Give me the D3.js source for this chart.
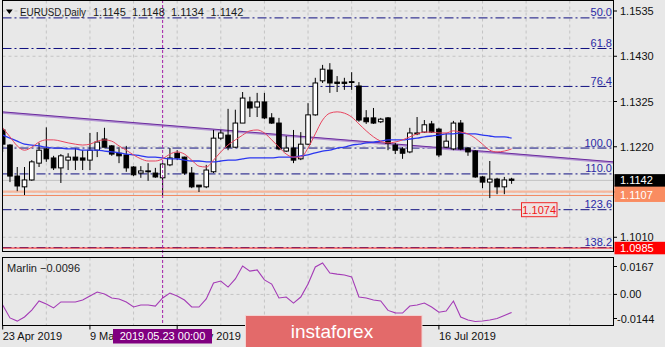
<!DOCTYPE html>
<html>
<head>
<meta charset="utf-8">
<script src="https://cdn.jsdelivr.net/npm/d3@7"></script>
<style>
  html, body { margin: 0; padding: 0; background: #e8e8e8; }
  svg { display: block; }
  text { font-family: "Liberation Sans", Arial, sans-serif; }
</style>
</head>
<body>
<svg id="chart" width="665" height="347"></svg>
<script>
// ---- EURUSD daily bars ----
const dates = [
  "2019-04-23","2019-04-24","2019-04-25","2019-04-26","2019-04-29","2019-04-30",
  "2019-05-01","2019-05-02","2019-05-03","2019-05-06","2019-05-07","2019-05-08","2019-05-09","2019-05-10",
  "2019-05-13","2019-05-14","2019-05-15","2019-05-16","2019-05-17","2019-05-20","2019-05-21","2019-05-22",
  "2019-05-23","2019-05-24","2019-05-27","2019-05-28","2019-05-29","2019-05-30","2019-05-31",
  "2019-06-03","2019-06-04","2019-06-05","2019-06-06","2019-06-07","2019-06-10","2019-06-11","2019-06-12",
  "2019-06-13","2019-06-14","2019-06-17","2019-06-18","2019-06-19","2019-06-20","2019-06-21","2019-06-24",
  "2019-06-25","2019-06-26","2019-06-27","2019-06-28",
  "2019-07-01","2019-07-02","2019-07-03","2019-07-04","2019-07-05","2019-07-08","2019-07-09","2019-07-10",
  "2019-07-11","2019-07-12","2019-07-15","2019-07-16","2019-07-17","2019-07-18","2019-07-19","2019-07-22",
  "2019-07-23","2019-07-24","2019-07-25","2019-07-26","2019-07-29","2019-07-30"
];
const open = [
  1.1259,1.1224,1.1152,1.1127,1.1143,1.1182,1.1215,1.1194,1.1171,1.1189,1.1196,1.1194,1.1189,1.1212,
  1.1238,1.1222,1.1205,1.1201,1.1173,1.1159,1.1164,1.1159,1.1148,1.1178,1.1205,1.1196,1.1159,1.1131,1.1127,
  1.1162,1.1240,1.1247,1.1219,1.1275,1.1324,1.1312,1.1324,1.1287,1.1275,1.1210,1.1217,1.1192,1.1226,1.1294,
  1.1373,1.1398,1.1370,1.1370,1.1371,1.1361,1.1287,1.1287,1.1278,1.1287,1.1224,1.1215,1.1208,1.1250,1.1254,
  1.1273,1.1261,1.1219,1.1215,1.1275,1.1217,1.1210,1.1150,1.1138,1.1145,1.1127,1.1145
];
const high = [
  1.1264,1.1226,1.1173,1.1173,1.1189,1.1229,1.1265,1.1199,1.1203,1.1205,1.1217,1.1212,1.1252,1.1254,
  1.1264,1.1224,1.1219,1.1222,1.1175,1.1175,1.1182,1.1171,1.1182,1.1217,1.1212,1.1197,1.1173,1.1131,1.1178,
  1.1259,1.1259,1.1308,1.1306,1.1347,1.1336,1.1345,1.1345,1.1298,1.1287,1.1245,1.1259,1.1254,1.1321,1.1380,
  1.1410,1.1414,1.1384,1.1380,1.1393,1.1370,1.1305,1.1310,1.1287,1.1289,1.1229,1.1219,1.1264,1.1289,1.1282,
  1.1280,1.1264,1.1252,1.1280,1.1282,1.1219,1.1212,1.1152,1.1187,1.1148,1.1150,1.1148
];
const low = [
  1.1208,1.1138,1.1117,1.1108,1.1141,1.1173,1.1185,1.1166,1.1136,1.1166,1.1166,1.1166,1.1166,1.1196,
  1.1219,1.1199,1.1182,1.1162,1.1152,1.1148,1.1141,1.1148,1.1108,1.1175,1.1189,1.1155,1.1124,1.1115,1.1124,
  1.1159,1.1236,1.1212,1.1217,1.1275,1.1289,1.1289,1.1284,1.1273,1.1212,1.1208,1.1182,1.1189,1.1224,1.1292,
  1.1368,1.1345,1.1347,1.1352,1.1352,1.1278,1.1273,1.1273,1.1275,1.1212,1.1203,1.1192,1.1205,1.1247,1.1252,
  1.1252,1.1196,1.1217,1.1212,1.1212,1.1199,1.1148,1.1124,1.1101,1.1110,1.1110,1.1134
];
const close = [
  1.1226,1.1152,1.1129,1.1143,1.1185,1.1212,1.1192,1.1171,1.1199,1.1196,1.1189,1.1189,1.1212,1.1231,
  1.1219,1.1203,1.1199,1.1171,1.1155,1.1164,1.1162,1.1150,1.1180,1.1194,1.1194,1.1159,1.1127,1.1127,1.1166,
  1.1240,1.1252,1.1219,1.1275,1.1333,1.1310,1.1324,1.1287,1.1275,1.1215,1.1217,1.1189,1.1226,1.1294,1.1368,
  1.1400,1.1368,1.1367,1.1367,1.1370,1.1282,1.1278,1.1275,1.1284,1.1228,1.1212,1.1205,1.1252,1.1252,1.1271,
  1.1254,1.1201,1.1233,1.1275,1.1215,1.1208,1.1150,1.1138,1.1145,1.1127,1.1143,1.1142
];

// ---- moving averages on the price window ----
const maFast = [
  1.1264,1.1243,1.1222,1.1212,1.1219,1.1231,1.1236,1.1236,1.1233,1.1229,1.1226,1.1224,1.1226,1.1233,
  1.1236,1.1233,1.1222,1.1212,1.1201,1.1192,1.1187,1.1187,1.1192,1.1203,1.1208,1.1203,1.1189,1.1175,1.1173,
  1.1189,1.1208,1.1224,1.1236,1.1247,1.1257,1.1259,1.1252,1.1236,1.1219,1.1203,1.1196,1.1196,1.1217,1.1250,
  1.1282,1.1298,1.1301,1.1298,1.1289,1.1273,1.1257,1.1243,1.1233,1.1229,1.1231,1.1236,1.1243,1.1250,1.1254,
  1.1254,1.1252,1.1252,1.1257,1.1254,1.1250,1.1240,1.1226,1.1212,1.1208,1.1210,1.1215
];
const maSlow = [
  1.1247,1.1240,1.1233,1.1226,1.1224,1.1222,1.1219,1.1217,1.1217,1.1215,1.1215,1.1212,1.1212,1.1212,
  1.1210,1.1208,1.1206,1.1203,1.1201,1.1199,1.1196,1.1196,1.1194,1.1192,1.1192,1.1189,1.1187,1.1187,1.1185,
  1.1185,1.1187,1.1189,1.1189,1.1192,1.1194,1.1194,1.1194,1.1194,1.1196,1.1196,1.1196,1.1199,1.1201,1.1206,
  1.1210,1.1212,1.1217,1.1219,1.1224,1.1226,1.1229,1.1231,1.1233,1.1236,1.1236,1.1236,1.1238,1.1240,1.1243,
  1.1245,1.1247,1.1250,1.1250,1.1252,1.1250,1.1250,1.1247,1.1245,1.1243,1.1243,1.1240
];

// ---- Marlin oscillator ----
const marlin = [
  -0.0056,-0.0125,-0.0142,-0.0120,-0.0083,-0.0035,-0.0051,-0.0072,-0.0040,-0.0040,-0.0040,-0.0030,-0.0009,0.0013,
  0.0002,-0.0019,-0.0024,-0.0040,-0.0067,-0.0056,-0.0056,-0.0062,-0.0019,0.0007,-0.0009,-0.0030,-0.0067,-0.0067,-0.0024,
  0.0061,0.0071,0.0039,0.0082,0.0151,0.0124,0.0130,0.0077,0.0055,-0.0019,-0.0014,-0.0046,-0.0014,0.0055,0.0146,
  0.0167,0.0114,0.0108,0.0103,0.0093,-0.0014,-0.0019,-0.0030,-0.0035,-0.0085,-0.0098,-0.0099,-0.0062,-0.0056,-0.0046,
  -0.0067,-0.0095,-0.0088,-0.0035,-0.0120,-0.0136,-0.0144,-0.0141,-0.0136,-0.0128,-0.0112,-0.0096
];
const marlinTicks = [0.0167, 0.00, -0.0144];
const marlinTickText = ["0.0167", "0.00", "-0.0144"];

// ---- axis ticks ----
const priceTicks = [1.1535, 1.1430, 1.1325, 1.1220, 1.1115, 1.1010];
const dateTickBars = [0, 12, 24, 36, 48, 60];

// ---- chart objects ----
const fibLevels = ["50.0", "61.8", "76.4", "100.0", "110.0", "123.6", "138.2"];
const fibPrices = [1.1519, 1.1448, 1.1360, 1.1217, 1.1157, 1.1074, 1.0986];
const trendBars = [0, 84];
const trendPrices = [1.1301, 1.1185];
const zoneUpper = 1.1116;
const zoneLower = 1.1107;
const redLevel = 1.0985;
const targetLabel = 1.1074;
const bidPrice = 1.1142;
const markerBar = 22;
const headerValues = ["1.1145", "1.1148", "1.1134", "1.1142"];
const marlinLast = marlin[marlin.length - 1];

// ---- layout ----
const W = 665, H = 347;
const L = 2.5, R = 613.5;
const mainTop = 0.5, mainBottom = 251.5;
const subTop = 257.5, subBottom = 325.5;
const step = 7.27, firstX = 2.7;
const badge = { x: 245.5, y: 315.5, w: 176.5, h: 34 };
const markerTag = { x: 113, y: 329, w: 99, h: 14.5 };

const svg = d3.select("#chart");
svg.append("rect").attr("width", W).attr("height", H).attr("fill", "#e8e8e8");

const x = d3.scaleLinear().domain([0, 84]).range([firstX, firstX + 84 * step]);
const y = d3.scaleLinear().domain([1.0985, 1.1535]).range([248.05, 11]);
const ym = d3.scaleLinear().domain([-0.0144, 0.0167]).range([321.5, 263]);
const parseDate = d3.timeParse("%Y-%m-%d");
const fmtDate = d3.timeFormat("%-d %b %Y");

const defs = svg.append("defs");
defs.append("clipPath").attr("id", "clipMain").append("rect")
  .attr("x", L).attr("y", mainTop).attr("width", R - L).attr("height", mainBottom - mainTop);
defs.append("clipPath").attr("id", "clipSub").append("rect")
  .attr("x", L).attr("y", subTop).attr("width", R - L).attr("height", subBottom - subTop);
// date labels are cut where the marker tag sits
const clipDates = defs.append("clipPath").attr("id", "clipDates");
clipDates.append("rect").attr("x", 0).attr("y", subBottom).attr("width", markerTag.x).attr("height", H - subBottom);
clipDates.append("rect").attr("x", markerTag.x + markerTag.w).attr("y", subBottom)
  .attr("width", W - markerTag.x - markerTag.w).attr("height", H - subBottom);

const gridColor = "#c4c4c4";
const gridBars = d3.range(6, 84, 6);

// ===== price window =====
const main = svg.append("g").attr("clip-path", "url(#clipMain)");

main.selectAll(".vgrid").data(gridBars).join("line")
  .attr("x1", d => x(d)).attr("x2", d => x(d))
  .attr("y1", mainTop).attr("y2", mainBottom)
  .attr("stroke", gridColor).attr("stroke-dasharray", "3,3");
main.selectAll(".hgrid").data(priceTicks).join("line")
  .attr("x1", L).attr("x2", R)
  .attr("y1", d => y(d)).attr("y2", d => y(d))
  .attr("stroke", gridColor).attr("stroke-dasharray", "3,3");

// support zone lines
main.append("line").attr("x1", L).attr("x2", R)
  .attr("y1", y(zoneUpper)).attr("y2", y(zoneUpper))
  .attr("stroke", "#f6b79c").attr("stroke-width", 2.2);
main.append("line").attr("x1", L).attr("x2", R)
  .attr("y1", y(zoneLower)).attr("y2", y(zoneLower))
  .attr("stroke", "#f2875f").attr("stroke-width", 1);

// bid line
main.append("line").attr("x1", L).attr("x2", R)
  .attr("y1", y(bidPrice)).attr("y2", y(bidPrice))
  .attr("stroke", "#c2c2c2").attr("stroke-width", 1);

// fibonacci levels
main.selectAll(".fib").data(fibPrices).join("line")
  .attr("x1", L).attr("x2", R)
  .attr("y1", d => y(d)).attr("y2", d => y(d))
  .attr("stroke", "#101080").attr("stroke-width", 1)
  .attr("stroke-dasharray", "9,3,2,3");
main.selectAll(".fibText").data(fibPrices).join("text")
  .attr("x", 612).attr("y", d => y(d) - 1.5)
  .attr("text-anchor", "end").attr("font-size", 11).attr("fill", "#2a2aa6")
  .text((d, i) => fibLevels[i]);

// red level
main.append("line").attr("x1", L).attr("x2", R)
  .attr("y1", y(redLevel)).attr("y2", y(redLevel))
  .attr("stroke", "#ff2020").attr("stroke-width", 1);

// trend line
const trend = trendBars.map((b, i) => [x(b), y(trendPrices[i])]);
main.append("line")
  .attr("x1", trend[0][0]).attr("y1", trend[0][1] + 0.8)
  .attr("x2", trend[1][0]).attr("y2", trend[1][1] + 0.8)
  .attr("stroke", "#b394d2").attr("stroke-width", 2);
main.append("line")
  .attr("x1", trend[0][0]).attr("y1", trend[0][1])
  .attr("x2", trend[1][0]).attr("y2", trend[1][1])
  .attr("stroke", "#6b2b9e").attr("stroke-width", 1);

// candles
const bars = dates.map((d, i) => ({ i, o: open[i], h: high[i], l: low[i], c: close[i] }));
const bodyW = 4.6;
main.selectAll(".wick").data(bars).join("line")
  .attr("x1", d => x(d.i)).attr("x2", d => x(d.i))
  .attr("y1", d => y(d.h)).attr("y2", d => y(d.l))
  .attr("stroke", "#000").attr("stroke-width", 1);
main.selectAll(".body").data(bars).join("rect")
  .attr("x", d => x(d.i) - bodyW / 2)
  .attr("y", d => y(Math.max(d.o, d.c)))
  .attr("width", bodyW)
  .attr("height", d => Math.max(0.8, Math.abs(y(d.o) - y(d.c))))
  .attr("fill", d => d.c > d.o ? "#ffffff" : "#000000")
  .attr("stroke", "#000").attr("stroke-width", 1);

// moving averages
const maLine = d3.line().x((d, i) => x(i)).y(d => y(d)).curve(d3.curveMonotoneX);
main.append("path").datum(maSlow).attr("d", maLine)
  .attr("fill", "none").attr("stroke", "#2a36f0").attr("stroke-width", 1.3);
main.append("path").datum(maFast).attr("d", maLine)
  .attr("fill", "none").attr("stroke", "#e8455f").attr("stroke-width", 1);

// target price tag
const ty = y(targetLabel);
main.append("line").attr("x1", x(bars.length - 1)).attr("x2", 522)
  .attr("y1", ty).attr("y2", ty).attr("stroke", "#f07070").attr("stroke-width", 1);
main.append("rect").attr("x", 521.5).attr("y", ty - 7).attr("width", 35.5).attr("height", 14)
  .attr("fill", "#efe2e2").attr("stroke", "#f02828").attr("stroke-width", 1);
main.append("text").attr("x", 539.2).attr("y", ty + 4).attr("text-anchor", "middle")
  .attr("font-size", 11).attr("fill", "#f01818").text(d3.format(".4f")(targetLabel));

// ===== Marlin window =====
const sub = svg.append("g").attr("clip-path", "url(#clipSub)");
sub.selectAll(".vgrid").data(gridBars).join("line")
  .attr("x1", d => x(d)).attr("x2", d => x(d))
  .attr("y1", subTop).attr("y2", subBottom)
  .attr("stroke", gridColor).attr("stroke-dasharray", "3,3");
sub.append("line").attr("x1", L).attr("x2", R)
  .attr("y1", ym(0)).attr("y2", ym(0))
  .attr("stroke", gridColor).attr("stroke-dasharray", "3,3");
sub.append("path").datum(marlin)
  .attr("d", d3.line().x((d, i) => x(i)).y(d => ym(d)))
  .attr("fill", "none").attr("stroke", "#a43bb6").attr("stroke-width", 1.1);
sub.append("text").attr("x", 7).attr("y", 272).attr("font-size", 11).attr("fill", "#222")
  .text("Marlin " + d3.format(".4f")(marlinLast));

// vertical date marker
svg.append("line").attr("x1", x(markerBar)).attr("x2", x(markerBar))
  .attr("y1", 0).attr("y2", subBottom)
  .attr("stroke", "#a31ea8").attr("stroke-width", 1).attr("stroke-dasharray", "3,2");

// window frames
svg.append("rect").attr("x", L).attr("y", mainTop).attr("width", R - L).attr("height", mainBottom - mainTop)
  .attr("fill", "none").attr("stroke", "#000").attr("stroke-width", 1);
svg.append("rect").attr("x", L).attr("y", subTop).attr("width", R - L).attr("height", subBottom - subTop)
  .attr("fill", "none").attr("stroke", "#000").attr("stroke-width", 1);

// ===== right price axis =====
const axisR = svg.append("g");
const tagged = [zoneUpper, zoneLower, bidPrice];
axisR.selectAll(".pt").data(priceTicks).join("line")
  .attr("x1", R).attr("x2", R + 3.5).attr("y1", d => y(d)).attr("y2", d => y(d))
  .attr("stroke", "#000");
// scale labels, leaving out the one sitting under the price tags
axisR.selectAll(".pl").data(priceTicks.filter(p => !tagged.some(t => Math.abs(y(t) - y(p)) < 8)))
  .join("text")
  .attr("x", 620).attr("y", d => y(d) + 4).attr("font-size", 11).attr("fill", "#111")
  .text(d => d3.format(".4f")(d));

function priceTag(price, fill, h) {
  const cy = y(price);
  axisR.append("rect").attr("x", 614.5).attr("y", cy - h / 2).attr("width", 51).attr("height", h)
    .attr("fill", fill);
}
priceTag(zoneUpper, "#f98c61", 13);
priceTag(zoneLower, "#f98c61", 13);
axisR.append("text").attr("x", 620).attr("y", y(zoneLower) + 4).attr("font-size", 11)
  .attr("fill", "#fff").text(d3.format(".4f")(zoneLower));
priceTag(bidPrice, "#000", 12.5);
axisR.append("text").attr("x", 620).attr("y", y(bidPrice) + 4).attr("font-size", 11)
  .attr("fill", "#fff").text(d3.format(".4f")(bidPrice));
priceTag(redLevel, "#ff0000", 12.5);
axisR.append("text").attr("x", 620).attr("y", y(redLevel) + 4).attr("font-size", 11)
  .attr("fill", "#fff").text(d3.format(".4f")(redLevel));

// Marlin scale
const subLabelY = v => Math.min(subBottom - 7, Math.max(subTop + 9, ym(v)));
axisR.selectAll(".mt").data(marlinTicks).join("line")
  .attr("x1", R).attr("x2", R + 3.5).attr("y1", d => subLabelY(d)).attr("y2", d => subLabelY(d))
  .attr("stroke", "#000");
axisR.selectAll(".ml").data(marlinTicks).join("text")
  .attr("x", (d, i) => d < 0 ? 617 : 620).attr("y", d => subLabelY(d) + 4)
  .attr("font-size", 11).attr("fill", "#111")
  .text((d, i) => marlinTickText[i]);

// ===== bottom date axis =====
const axisB = svg.append("g");
axisB.selectAll(".dt").data(dateTickBars).join("line")
  .attr("x1", d => x(d)).attr("x2", d => x(d)).attr("y1", subBottom).attr("y2", subBottom + 4)
  .attr("stroke", "#000");
// date labels; those fully under the badge are not drawn
const shownDates = dateTickBars.filter(b => !(x(b) > badge.x && x(b) + 60 < badge.x + badge.w + 10));
axisB.append("g").attr("clip-path", "url(#clipDates)")
  .selectAll(".dl").data(shownDates).join("text")
  .attr("x", d => x(d)).attr("y", 340).attr("font-size", 11).attr("fill", "#111")
  .text(d => fmtDate(parseDate(dates[d])));

// date marker tag
const markerDate = parseDate(dates[markerBar]);
svg.append("rect").attr("x", markerTag.x).attr("y", markerTag.y).attr("width", markerTag.w).attr("height", markerTag.h)
  .attr("fill", "#800080");
svg.append("text").attr("x", markerTag.x + markerTag.w / 2).attr("y", 340.2).attr("text-anchor", "middle")
  .attr("font-size", 11).attr("fill", "#fff")
  .text(d3.timeFormat("%Y.%m.%d %H:%M")(markerDate));

// ===== header =====
svg.append("polygon").attr("points", "6,9.5 12.7,9.5 9.35,14").attr("fill", "#000");
svg.append("text").attr("x", 20).attr("y", 16).attr("font-size", 11).attr("fill", "#1a1a1a")
  .attr("textLength", 66).attr("lengthAdjust", "spacingAndGlyphs")
  .text("EURUSD,Daily");
const headerX = [93, 132, 171, 210.5];
svg.selectAll(".hv").data(headerValues).join("text")
  .attr("x", (d, i) => headerX[i]).attr("y", 16).attr("font-size", 11).attr("fill", "#1a1a1a")
  .text(d => d);

// ===== watermark =====
svg.append("rect").attr("x", badge.x).attr("y", badge.y).attr("width", badge.w).attr("height", badge.h)
  .attr("fill", "#e36a6a").attr("stroke", "#f3d2d2").attr("stroke-width", 1);
svg.append("text").attr("x", 332).attr("y", 337.5).attr("text-anchor", "middle")
  .attr("font-size", 19).attr("fill", "#ffffff").text("instaforex");
</script>
</body>
</html>
